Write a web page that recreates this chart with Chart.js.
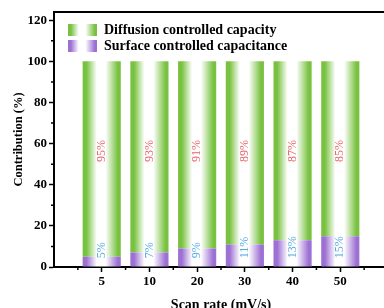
<!DOCTYPE html>
<html>
<head>
<meta charset="utf-8">
<script src="https://cdn.jsdelivr.net/npm/chart.js@4.4.0/dist/chart.umd.min.js"></script>
<style>
  html, body { margin: 0; padding: 0; overflow: hidden; background: #fff; }
  #wrap { position: absolute; left: 0; top: 0; width: 400px; height: 316px; }
</style>
</head>
<body>
<div id="wrap"><canvas id="chart" width="400" height="316"></canvas></div>
<script>
// Chart data
const scanRates = ["5", "10", "20", "30", "40", "50"];
const surfacePct = [5, 7, 9, 11, 13, 15];
const diffusionPct = [95, 93, 91, 89, 87, 85];
const yTicks = [0, 20, 40, 60, 80, 100, 120];

const GREEN = "#79c241";
const PURPLE = "#9d70d4";
const RED_TEXT = "#e8636b";
const BLUE_TEXT = "#55aae2";
const SERIF = '"Liberation Serif", "Times New Roman", serif';

// Stripe gradient: colour at the edges, white in the middle
function stripeGradient(ctx, left, width, color) {
  const g = ctx.createLinearGradient(left, 0, left + width, 0);
  g.addColorStop(0, color);
  g.addColorStop(0.1, color);
  g.addColorStop(0.37, "#ffffff");
  g.addColorStop(0.6, "#ffffff");
  g.addColorStop(0.92, color);
  g.addColorStop(1, color);
  return g;
}

function barFill(color) {
  return (c) => {
    const chart = c.chart;
    if (!chart.chartArea || c.type !== "data") return color;
    const xs = chart.scales.x;
    const w = 0.8 * (xs.getPixelForValue(1) - xs.getPixelForValue(0));
    const cx = xs.getPixelForValue(c.parsed.x);
    return stripeGradient(chart.ctx, cx - w / 2, w, color);
  };
}

// Top frame line
const frameLine = {
  id: "frameLine",
  afterDraw(chart) {
    const { ctx, chartArea: a } = chart;
    ctx.save();
    ctx.strokeStyle = "#000";
    ctx.lineWidth = 2;
    ctx.beginPath();
    ctx.moveTo(a.left - 1, a.top);
    ctx.lineTo(a.right, a.top);
    ctx.stroke();
    ctx.restore();
  },
};

// Short minor ticks between the labelled ones
const minorTicks = {
  id: "minorTicks",
  afterDraw(chart) {
    const { ctx, chartArea: a, scales } = chart;
    ctx.save();
    ctx.strokeStyle = "#000";
    ctx.lineWidth = 1.5;
    ctx.beginPath();
    for (let v = 10; v < 124; v += 20) {
      const py = scales.y.getPixelForValue(v);
      ctx.moveTo(a.left - 3, py);
      ctx.lineTo(a.left, py);
    }
    for (let v = 0.5; v < 7; v += 1) {
      const px = scales.x.getPixelForValue(v);
      ctx.moveTo(px, a.bottom);
      ctx.lineTo(px, a.bottom + 3);
    }
    ctx.stroke();
    ctx.restore();
  },
};

// Percent labels written upwards on the bars
function drawUp(ctx, text, x, y, color) {
  ctx.save();
  ctx.translate(x, y);
  ctx.rotate(-Math.PI / 2);
  ctx.fillStyle = color;
  ctx.fillText(text, 0, 0);
  ctx.restore();
}

const valueLabels = {
  id: "valueLabels",
  afterDatasetsDraw(chart) {
    const { ctx, scales } = chart;
    ctx.save();
    ctx.font = `12px ${SERIF}`;
    ctx.textAlign = "left";
    ctx.textBaseline = "middle";
    scanRates.forEach((_, i) => {
      const px = scales.x.getPixelForValue(i + 1);
      drawUp(ctx, `${diffusionPct[i]}%`, px, scales.y.getPixelForValue(51), RED_TEXT);
      drawUp(ctx, `${surfacePct[i]}%`, px, scales.y.getPixelForValue(4.2), BLUE_TEXT);
    });
    ctx.restore();
  },
};

// Legend inside the plot, with striped swatches
const stripeLegend = {
  id: "stripeLegend",
  afterDraw(chart) {
    const { ctx, chartArea: a } = chart;
    const items = chart.data.datasets.slice().reverse();
    ctx.save();
    ctx.font = `bold 14px ${SERIF}`;
    ctx.textBaseline = "middle";
    items.forEach((ds, i) => {
      const left = a.left + 14;
      const top = a.top + 12 + i * 16;
      ctx.fillStyle = stripeGradient(ctx, left, 29, ds.swatchColor);
      ctx.fillRect(left, top, 29, 12);
      ctx.fillStyle = "#000";
      ctx.fillText(ds.label, left + 36, top + 6.5);
    });
    ctx.restore();
  },
};

const canvas = document.getElementById("chart");

new Chart(canvas, {
  type: "bar",
  data: {
    datasets: [
      {
        label: "Surface controlled capacitance",
        data: surfacePct.map((v, i) => ({ x: i + 1, y: v })),
        backgroundColor: barFill(PURPLE),
        swatchColor: PURPLE,
      },
      {
        label: "Diffusion controlled capacity",
        data: diffusionPct.map((v, i) => ({ x: i + 1, y: v })),
        backgroundColor: barFill(GREEN),
        swatchColor: GREEN,
      },
    ],
  },
  options: {
    responsive: false,
    animation: false,
    devicePixelRatio: 1,
    layout: { padding: { top: 12, right: 12, left: 0, bottom: 0 } },
    datasets: { bar: { barPercentage: 0.8, categoryPercentage: 1, borderWidth: 0 } },
    plugins: { legend: { display: false }, tooltip: { enabled: false } },
    scales: {
      x: {
        type: "linear",
        min: 0,
        max: 7,
        stacked: true,
        offset: false,
        z: 1,
        afterBuildTicks: (s) => {
          s.ticks = scanRates.map((_, i) => ({ value: i + 1 }));
        },
        afterFit: (s) => {
          s.height = 49;
        },
        ticks: {
          callback: (v) => scanRates[v - 1],
          font: { family: SERIF, size: 13, weight: "bold" },
          color: "#000",
          padding: 2,
          maxRotation: 0,
          autoSkip: false,
        },
        grid: { drawOnChartArea: false, offset: false, tickLength: 5, tickWidth: 1.5, tickColor: "#000" },
        border: { display: true, color: "#000", width: 2 },
        title: {
          display: true,
          text: "Scan rate (mV/s)",
          font: { family: SERIF, size: 14, weight: "bold" },
          color: "#000",
          padding: { top: 0, bottom: 2 },
        },
      },
      y: {
        stacked: true,
        min: 0,
        max: 124,
        z: 1,
        afterBuildTicks: (s) => {
          s.ticks = yTicks.map((v) => ({ value: v }));
        },
        afterFit: (s) => {
          s.width = 54;
        },
        ticks: {
          font: { family: SERIF, size: 13, weight: "bold" },
          color: "#000",
          padding: 2,
        },
        grid: { drawOnChartArea: false, tickLength: 5, tickWidth: 1.5, tickColor: "#000" },
        border: { display: true, color: "#000", width: 2 },
        title: {
          display: true,
          text: "Contribution (%)",
          font: { family: SERIF, size: 12.5, weight: "bold" },
          color: "#000",
          padding: { top: 11, bottom: 0 },
        },
      },
    },
  },
  plugins: [valueLabels, frameLine, minorTicks, stripeLegend],
});
</script>
</body>
</html>
